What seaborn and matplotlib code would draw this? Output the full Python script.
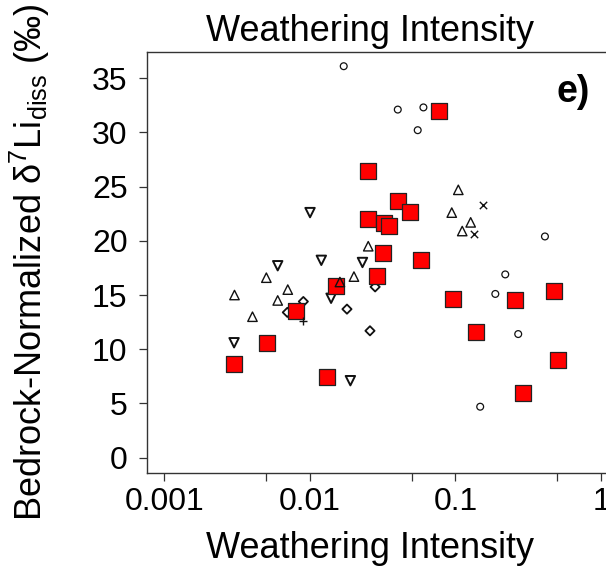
import numpy as np
import pandas as pd
import seaborn as sns
import matplotlib
matplotlib.use("Agg")
import matplotlib.pyplot as plt
from matplotlib.ticker import FixedLocator, NullFormatter

# --- data (weathering intensity vs. normalized d7Li) ---
square_x = [0.0774, 0.0251, 0.0402, 0.0490, 0.0251, 0.0324, 0.0352, 0.0320, 0.0583,
            0.0291, 0.0151, 0.0968, 0.258, 0.478, 0.00805, 0.1377, 0.503, 0.00507,
            0.00302, 0.0131, 0.292]
square_y = [32.0, 26.4, 23.7, 22.7, 22.0, 21.6, 21.4, 18.9, 18.2,
            16.8, 15.8, 14.6, 14.5, 15.4, 13.5, 11.6, 9.0, 10.6,
            8.6, 7.4, 6.0]

circle_x = [0.0171, 0.0402, 0.0603, 0.0551, 0.412, 0.220, 0.188, 0.270, 0.148]
circle_y = [36.1, 32.1, 32.3, 30.2, 20.4, 16.9, 15.1, 11.4, 4.7]

tri_up_x = [0.1047, 0.0944, 0.1273, 0.1114, 0.0252, 0.0201, 0.0161, 0.00503,
            0.00304, 0.00706, 0.00602, 0.00404]
tri_up_y = [24.7, 22.6, 21.7, 20.9, 19.5, 16.7, 16.2, 16.6,
            15.0, 15.5, 14.5, 13.0]

tri_down_x = [0.01004, 0.0120, 0.0230, 0.00602, 0.0140, 0.00302, 0.0190]
tri_down_y = [22.6, 18.2, 18.0, 17.7, 14.7, 10.6, 7.1]

diamond_x = [0.00903, 0.00701, 0.0281, 0.0180, 0.0259]
diamond_y = [14.4, 13.4, 15.75, 13.7, 11.7]

cross_x = [0.1538, 0.1349]
cross_y = [23.3, 20.6]

plus_x = [0.00903]
plus_y = [12.6]

x_ticks = [0.001, 0.01, 0.1, 1]
x_tick_labels = ["0.001", "0.01", "0.1", "1"]
x_minor = [0.005, 0.05, 0.5]
y_ticks = [0, 5, 10, 15, 20, 25, 30, 35]

sns.set_style("white")
plt.rcParams.update({
    "font.family": ["Liberation Sans", "DejaVu Sans"],
    "mathtext.fontset": "custom",
    "mathtext.rm": "Liberation Sans",
    "mathtext.it": "Liberation Sans:italic",
    "mathtext.bf": "Liberation Sans:bold",
    "mathtext.default": "regular",
})

fig = plt.figure(figsize=(6.06, 5.71), dpi=100, facecolor="white")
# axes box runs past the right edge, as in the cropped reference
ax = fig.add_axes([0.2421, 0.1711, 0.7785, 0.7384])
ax.set_xscale("log")

INK = "#111111"


def df_of(xs, ys):
    return pd.DataFrame({"wi": xs, "d7li": ys})


# open symbols underneath
sns.scatterplot(data=df_of(circle_x, circle_y), x="wi", y="d7li", ax=ax,
                marker="o", s=24, facecolor="none", edgecolor=INK, linewidth=0.9)
sns.scatterplot(data=df_of(diamond_x, diamond_y), x="wi", y="d7li", ax=ax,
                marker="D", s=22, facecolor="none", edgecolor=INK, linewidth=1.3)
sns.scatterplot(data=df_of(tri_down_x, tri_down_y), x="wi", y="d7li", ax=ax,
                marker="v", s=46, facecolor="none", edgecolor=INK, linewidth=1.4)
# red squares
sns.scatterplot(data=df_of(square_x, square_y), x="wi", y="d7li", ax=ax,
                marker="s", s=145, facecolor="#ff0000", edgecolor="#222222",
                linewidth=0.9)
sns.scatterplot(data=df_of(tri_up_x, tri_up_y), x="wi", y="d7li", ax=ax,
                marker="^", s=46, facecolor="none", edgecolor=INK, linewidth=1.0)
sns.scatterplot(data=df_of(cross_x, cross_y), x="wi", y="d7li", ax=ax,
                marker="x", s=28, color=INK, linewidth=1.0)
sns.scatterplot(data=df_of(plus_x, plus_y), x="wi", y="d7li", ax=ax,
                marker="+", s=38, color=INK, linewidth=1.0)

ax.set_xlim(10 ** -3.12, 10 ** 0.12)
ax.set_ylim(-1.44, 37.44)

ax.xaxis.set_major_locator(FixedLocator(x_ticks))
ax.set_xticklabels(x_tick_labels)
ax.xaxis.set_minor_locator(FixedLocator(x_minor))
ax.xaxis.set_minor_formatter(NullFormatter())
ax.set_yticks(y_ticks)
ax.set_yticklabels([str(v) for v in y_ticks])

ax.tick_params(axis="both", which="both", direction="out", length=5.8,
               width=0.9, color="#333333", labelsize=23, labelcolor="black",
               left=True, bottom=True)
ax.tick_params(axis="x", which="both", pad=4)
ax.tick_params(axis="y", pad=8)

for side in ["left", "right", "top", "bottom"]:
    ax.spines[side].set_visible(True)
    ax.spines[side].set_color("#333333")
    ax.spines[side].set_linewidth(1.0)

ax.grid(False)
ax.set_title("Weathering Intensity", fontsize=26, pad=8, color="black", x=0.473)
ax.set_xlabel("Weathering Intensity", fontsize=26, labelpad=10, color="black")
ax.xaxis.label.set_x(0.473)
ax.set_ylabel("Bedrock-Normalized δ$^{7}$Li$_{\\mathrm{diss}}$ (‰)",
              fontsize=26, color="black")
ax.yaxis.set_label_coords(-0.2, 0.5)

ax.text(0.905, 0.905, "e)", transform=ax.transAxes, fontsize=27,
        fontweight="bold", ha="center", va="center", color="black")

fig.savefig("out.png", dpi=100, facecolor="white")
plt.close(fig)
